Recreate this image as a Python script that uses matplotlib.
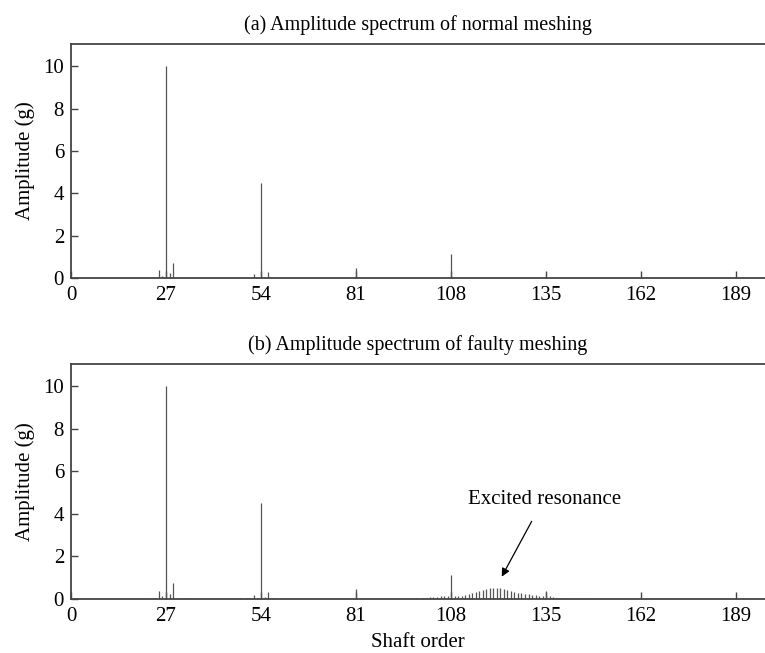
import matplotlib.pyplot as plt

plt.rcParams['font.family'] = ['Liberation Serif', 'DejaVu Serif']
plt.rcParams['mathtext.fontset'] = 'stix'

# (a) normal meshing: shaft order -> amplitude (g)
orders_a = [25, 26, 27, 28, 29, 52, 54, 55, 56, 81, 108, 110]
amps_a = [0.40, 0.10, 10.0, 0.24, 0.70, 0.19, 4.5, 0.05, 0.30, 0.47, 1.13, 0.05]

# (b) faulty meshing
orders_b = [10, 14, 18, 20, 21, 22, 23, 24, 25, 26, 27, 28, 29, 30, 31, 32, 33, 34, 36,
            40, 45, 48, 50, 51, 52, 53, 54, 55, 56, 57, 58, 62, 70, 76, 81, 84, 88, 90,
            92, 94, 96, 98, 100, 101, 102, 103, 104, 105, 106, 107, 108,
            109, 110, 111, 112, 113, 114, 115, 116, 117, 118, 119, 120, 121, 122, 123,
            124, 125, 126, 127, 128, 129, 130, 131, 132, 133, 134, 135, 136, 137, 138,
            139, 140, 141, 142, 143, 144, 145, 146, 147, 148, 149, 150, 151, 152, 158]
amps_b = [0.02, 0.02, 0.02, 0.03, 0.03, 0.04, 0.05, 0.06, 0.36, 0.12, 10.0, 0.22, 0.74,
          0.06, 0.05, 0.04, 0.04, 0.03, 0.02,
          0.02, 0.02, 0.03, 0.04, 0.05, 0.17, 0.06, 4.5, 0.08, 0.31, 0.05, 0.03, 0.02,
          0.02, 0.02, 0.46, 0.02, 0.03, 0.03,
          0.04, 0.04, 0.05, 0.05, 0.06, 0.07, 0.08, 0.09, 0.10, 0.12, 0.15, 0.14, 1.13,
          0.12, 0.12, 0.15, 0.20, 0.25, 0.30, 0.33, 0.38, 0.42, 0.47, 0.50, 0.52, 0.52,
          0.50, 0.47,
          0.42, 0.38, 0.33, 0.30, 0.27, 0.25, 0.22, 0.20, 0.18, 0.15, 0.13, 0.38, 0.12,
          0.10, 0.07,
          0.05, 0.05, 0.05, 0.04, 0.04, 0.04, 0.03, 0.03, 0.03, 0.03, 0.02, 0.02, 0.02,
          0.02, 0.02]

xticks = [0, 27, 54, 81, 108, 135, 162, 189]
yticks = [0, 2, 4, 6, 8, 10]
titles = ['(a) Amplitude spectrum of normal meshing',
          '(b) Amplitude spectrum of faulty meshing']

fig = plt.figure(figsize=(7.65, 6.53), dpi=100)
ax1 = fig.add_axes([0.0928, 0.5743, 0.9072, 0.3583])
ax2 = fig.add_axes([0.0928, 0.0827, 0.9072, 0.3599])

axis_col = '#444444'
stem_col = '#555555'

for ax, x, y, t in [(ax1, orders_a, amps_a, titles[0]), (ax2, orders_b, amps_b, titles[1])]:
    ax.vlines(x, 0, y, color=stem_col, linewidth=0.9)
    ax.set_xlim(0, 197.2)
    ax.set_ylim(0, 11.05)
    ax.set_xticks(xticks)
    ax.set_yticks(yticks)
    ax.tick_params(direction='in', length=5, width=1, colors=axis_col,
                   labelcolor='black', labelsize=15)
    ax.tick_params(axis='x', pad=6)
    ax.tick_params(axis='y', pad=5)
    ax.spines['right'].set_visible(False)
    for s in ['top', 'left', 'bottom']:
        ax.spines[s].set_color(axis_col)
        ax.spines[s].set_linewidth(1.3)
    ax.set_ylabel('Amplitude (g)', fontsize=15, labelpad=6)
    ax.set_title(t, fontsize=14.5, pad=10)

ax2.set_xlabel('Shaft order', fontsize=15, labelpad=5)

ax2.annotate('', xy=(122.4, 1.05), xytext=(130.9, 3.65),
             arrowprops=dict(arrowstyle='-|>', color='black', lw=0.9,
                             mutation_scale=12, shrinkA=0, shrinkB=0))
ax2.text(134.7, 4.67, 'Excited resonance', fontsize=15, ha='center', va='center')

fig.savefig('out.png', dpi=100)
